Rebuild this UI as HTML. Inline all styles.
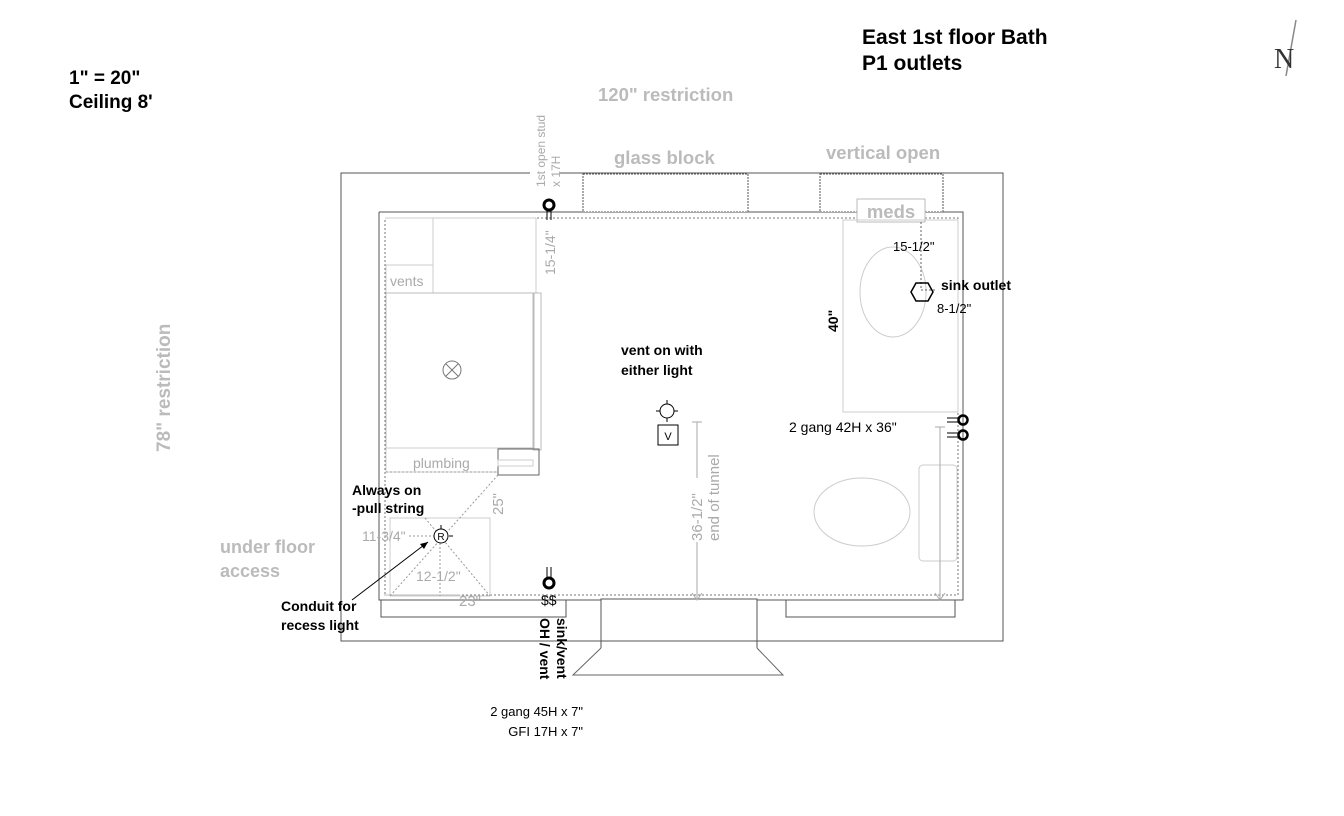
<!DOCTYPE html>
<html><head><meta charset="utf-8"><style>
html,body{margin:0;padding:0;background:#fff;}
svg{display:block;}
text{font-family:"Liberation Sans",Arial,sans-serif;}
.b{font-weight:bold;fill:#000;font-size:16px;}
.g{font-weight:bold;fill:#bbb;font-size:18.5px;}
.d{fill:#aaa;font-size:13px;}
.k{fill:#000;font-size:13px;}
.kb{fill:#000;font-size:14px;font-weight:bold;}
</style></head><body>
<svg width="1344" height="816" viewBox="0 0 1344 816" xmlns="http://www.w3.org/2000/svg">
<rect width="1344" height="816" fill="#fff"/>
<g fill="none" stroke="#555" stroke-width="1">
<polyline points="530,173 341,173 341,641 1003,641 1003,173 560,173"/>
<polyline points="379,212 963,212 963,600 955,600"/>
<polyline points="379,212 379,600 566,600"/>
<line x1="566" y1="600" x2="601" y2="600"/>
<line x1="757" y1="600" x2="786" y2="600"/>
<rect x="381" y="600" width="185" height="17"/>
<rect x="786" y="600" width="169" height="17"/>
<polyline points="601,648 601,599 757,599 757,648"/>
<polyline points="601,648 573,675 783,675 757,648" stroke="#666"/>
</g>
<rect x="385" y="218" width="573" height="377" fill="none" stroke="#777" stroke-dasharray="2,2"/>
<rect x="583" y="174" width="165" height="38" fill="#fff" stroke="#555" stroke-dasharray="2,1"/>
<rect x="820" y="174" width="123" height="38" fill="#fff" stroke="#555" stroke-dasharray="2,1"/>
<rect x="857" y="199" width="68" height="23" fill="#fff" stroke="#bbb"/>
<text x="891" y="218" class="g" text-anchor="middle">meds</text>
<g fill="none" stroke="#ccc">
<line x1="385" y1="218" x2="536" y2="218"/>
<line x1="536" y1="218" x2="536" y2="293"/>
<line x1="433" y1="218" x2="433" y2="293"/>
<rect x="386" y="265" width="47" height="28"/>
<rect x="386" y="293" width="148" height="155" stroke="#bbb"/>
<rect x="533" y="293" width="8" height="157" stroke="#bbb"/>
<rect x="386" y="448" width="112" height="24" stroke="#ccc"/>
<rect x="390" y="518" width="100" height="78"/>
<line x1="384" y1="595" x2="460" y2="595" stroke="#bbb"/>
</g>
<rect x="498" y="449" width="41" height="26" fill="none" stroke="#666"/>
<rect x="498" y="460" width="35" height="6" fill="none" stroke="#ccc"/>
<g stroke="#999" stroke-dasharray="2,2" fill="none">
<line x1="386" y1="472" x2="498" y2="472"/>
<line x1="498" y1="475" x2="390" y2="596"/>
<line x1="425" y1="518" x2="490" y2="596"/>
<line x1="409" y1="536" x2="436" y2="536"/>
<line x1="440" y1="543" x2="440" y2="596"/>
</g>
<text x="390" y="286" class="d" style="font-size:14px">vents</text>
<text x="413" y="468" class="d" style="font-size:14px">plumbing</text>
<circle cx="452" cy="370" r="9" fill="none" stroke="#777"/>
<line x1="446" y1="364" x2="458" y2="376" stroke="#777"/><line x1="458" y1="364" x2="446" y2="376" stroke="#777"/>
<text x="555" y="275" class="d" transform="rotate(-90 555 275)" style="font-size:14px">15-1/4"</text>
<text x="503" y="515" class="d" transform="rotate(-90 503 515)" style="font-size:15px">25"</text>
<text x="362" y="541" class="d" style="font-size:14px">11-3/4"</text>
<text x="416" y="581" class="d" style="font-size:14px">12-1/2"</text>
<text x="459" y="606" class="d" style="font-size:15px">23"</text>
<circle cx="441" cy="536" r="7" fill="#fff" stroke="#000"/>
<text x="441" y="540" text-anchor="middle" style="font-size:10px">R</text>
<line x1="441" y1="525" x2="441" y2="529" stroke="#000"/><line x1="449" y1="536" x2="453" y2="536" stroke="#000"/>
<line x1="352" y1="600" x2="428" y2="542" stroke="#000"/>
<polygon points="428,542 420,544 424,549" fill="#000"/>
<text x="352" y="495" class="kb">Always on</text>
<text x="352" y="513" class="kb">-pull string</text>
<text x="281" y="611" class="kb">Conduit for</text>
<text x="281" y="630" class="kb">recess light</text>
<circle cx="549" cy="205" r="5" fill="none" stroke="#000" stroke-width="3"/>
<line x1="547" y1="210" x2="547" y2="220" stroke="#000"/><line x1="551" y1="210" x2="551" y2="220" stroke="#000"/>
<text x="545" y="187" class="d" transform="rotate(-90 545 187)" style="font-size:12px">1st open stud</text>
<text x="560" y="187" class="d" transform="rotate(-90 560 187)" style="font-size:12px">x 17H</text>
<circle cx="549" cy="583" r="5" fill="none" stroke="#000" stroke-width="3"/>
<line x1="547" y1="567" x2="547" y2="578" stroke="#000"/><line x1="551" y1="567" x2="551" y2="578" stroke="#000"/>
<text x="541" y="605" class="k" style="font-size:14px">$$</text>
<text x="557" y="618" class="kb" transform="rotate(90 557 618)">sink/vent</text>
<text x="540" y="618" class="kb" transform="rotate(90 540 618)">OH / vent</text>
<text x="583" y="716" class="k" text-anchor="end">2 gang 45H x 7"</text>
<text x="583" y="736" class="k" text-anchor="end">GFI 17H x 7"</text>
<text x="621" y="355" class="kb">vent on with</text>
<text x="621" y="375" class="kb">either light</text>
<circle cx="667" cy="411" r="7" fill="none" stroke="#000"/>
<line x1="667" y1="400" x2="667" y2="404" stroke="#000"/><line x1="667" y1="418" x2="667" y2="422" stroke="#000"/>
<line x1="656" y1="411" x2="660" y2="411" stroke="#000"/><line x1="674" y1="411" x2="678" y2="411" stroke="#000"/>
<rect x="658" y="425" width="20" height="20" fill="none" stroke="#000"/>
<text x="668" y="440" text-anchor="middle" style="font-size:11px">V</text>
<line x1="697" y1="422" x2="697" y2="600" stroke="#aaa"/>
<line x1="692" y1="422" x2="702" y2="422" stroke="#aaa"/>
<polyline points="692,593 697,600 702,593" fill="none" stroke="#aaa"/>
<rect x="691" y="478" width="12" height="64" fill="#fff"/>
<text x="702" y="541" class="d" transform="rotate(-90 702 541)" style="font-size:15px">36-1/2"</text>
<text x="719" y="541" class="d" transform="rotate(-90 719 541)" style="font-size:15px">end of tunnel</text>
<g fill="none" stroke="#ccc">
<rect x="843" y="220" width="115" height="192"/>
<ellipse cx="893" cy="292" rx="33" ry="45"/>
<ellipse cx="862" cy="512" rx="48" ry="34"/>
<rect x="919" y="465" width="38" height="96" rx="4"/>
</g>
<line x1="921" y1="222" x2="921" y2="290" stroke="#666" stroke-dasharray="2,2"/>
<line x1="921" y1="290" x2="936" y2="290" stroke="#666" stroke-dasharray="2,2"/>
<polygon points="916,283 928,283 933,292 928,301 916,301 911,292" fill="none" stroke="#000" stroke-width="1.5"/>
<text x="893" y="251" class="k">15-1/2"</text>
<text x="941" y="290" class="kb">sink outlet</text>
<text x="937" y="313" class="k">8-1/2"</text>
<text x="838" y="332" class="kb" transform="rotate(-90 838 332)">40"</text>
<g stroke="#000" fill="none">
<circle cx="963" cy="420" r="4.5" stroke-width="2.5"/><circle cx="963" cy="435" r="4.5" stroke-width="2.5"/>
<line x1="947" y1="418" x2="958" y2="418"/><line x1="947" y1="422" x2="958" y2="422"/>
<line x1="947" y1="433" x2="958" y2="433"/><line x1="947" y1="437" x2="958" y2="437"/>
</g>
<line x1="940" y1="427" x2="940" y2="600" stroke="#aaa"/>
<line x1="935" y1="427" x2="945" y2="427" stroke="#aaa"/>
<polyline points="935,593 940,600 945,593" fill="none" stroke="#aaa"/>
<text x="789" y="432" class="k" style="font-size:14px">2 gang 42H x 36"</text>
<text x="862" y="44" class="b" style="font-size:21px">East 1st floor Bath</text>
<text x="862" y="70" class="b" style="font-size:21px">P1 outlets</text>
<text x="69" y="84" class="b" style="font-size:19px">1" = 20"</text>
<text x="69" y="108" class="b" style="font-size:19px">Ceiling 8'</text>
<text x="598" y="101" class="g">120" restriction</text>
<text x="614" y="164" class="g">glass block</text>
<text x="826" y="159" class="g">vertical open</text>
<text x="170" y="452" class="g" transform="rotate(-90 170 452)" style="font-size:19px">78" restriction</text>
<text x="220" y="553" class="g" style="font-size:18px">under floor</text>
<text x="220" y="577" class="g" style="font-size:18px">access</text>
<line x1="1296" y1="20" x2="1286" y2="76" stroke="#888" stroke-width="1.5"/>
<text x="1274" y="68" style="font-family:'Liberation Serif',serif;font-size:28px;fill:#333">N</text>
</svg>
</body></html>
